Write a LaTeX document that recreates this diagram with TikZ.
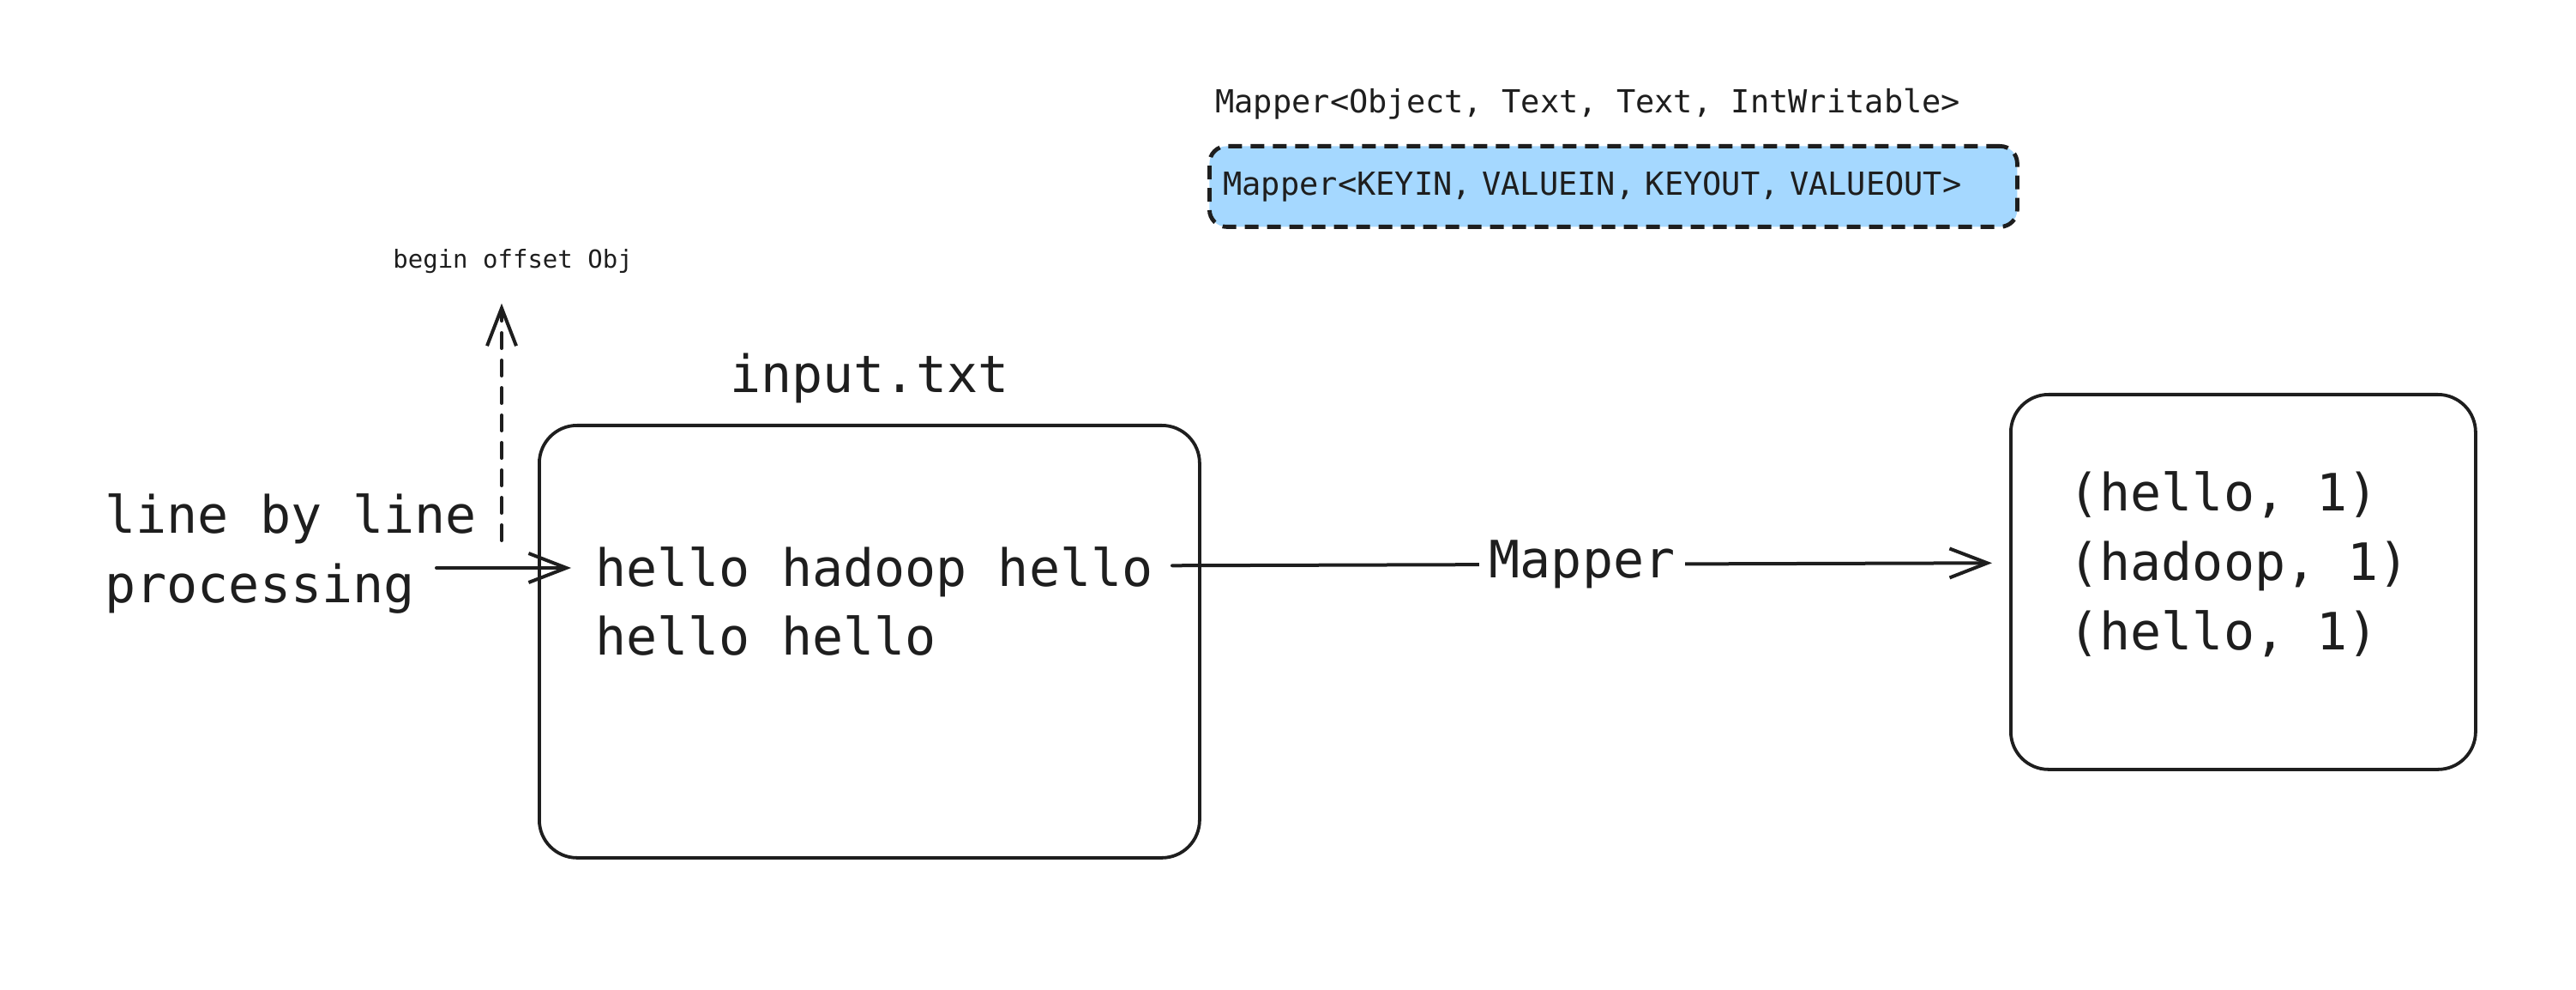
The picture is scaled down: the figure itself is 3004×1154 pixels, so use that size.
\documentclass[tikz,border=0pt]{standalone}
\usepackage{fontspec}
\usetikzlibrary{arrows.meta,positioning}
\newfontfamily\sketchfont{DejaVu Sans Mono}
\definecolor{ink}{HTML}{1E1E1E}
\definecolor{typeblue}{HTML}{A5D8FF}
\tikzset{
	frame/.style={draw=ink, line width=1.9pt, rounded corners=22pt},
	bigtxt/.style={inner sep=0pt, text=ink, font=\sketchfont\fontsize{30}{40.5}\selectfont},
	smalltxt/.style={inner sep=0pt, text=ink, font=\sketchfont\fontsize{18.5}{24}\selectfont},
	tinytxt/.style={inner sep=0pt, text=ink, font=\sketchfont\fontsize{14.5}{18}\selectfont},
	flow/.style={draw=ink, line width=2pt, line cap=round, -{Straight Barb[length=22pt, width=17pt, line width=2pt]}},
}
\begin{document}
\begin{tikzpicture}[x=0.5pt, y=-0.5pt]
	\useasboundingbox (0,0) rectangle (3004,1154);
	% Tipos del Mapper
		\node[smalltxt, anchor=base west] (objtype) at (1417,132) {Mapper<Object, Text, Text, IntWritable>};
		\node[smalltxt, anchor=north west, draw=ink, fill=typeblue, line width=2.4pt, dash pattern=on 8pt off 5pt,
			rounded corners=10pt, minimum width=471pt, minimum height=47pt, inner xsep=8pt, text width=455pt, align=left]
			(gentype) at (1408,168) {Mapper<KEYIN, VALUEIN, KEYOUT, VALUEOUT>};
	% Archivo de entrada
		\node[frame, anchor=north west, minimum width=385pt, minimum height=252pt] (infile) at (627,494) {};
		\node[bigtxt, above=12pt of infile] (fname) {input.txt};
		\node[bigtxt, anchor=base west] (lineone) at (694,683) {hello hadoop hello};
		\node[bigtxt, anchor=base west] (linetwo) at (694,763) {hello hello};
	% Salida
		\node[frame, anchor=north west, minimum width=271pt, minimum height=218.5pt] (outfile) at (2343,458) {};
		\node[bigtxt, anchor=base west, align=left] (pairs) at (2412,757) {(hello, 1)\\(hadoop, 1)\\(hello, 1)};
	% Lectura
		\node[bigtxt, anchor=base west, align=left] (howto) at (122,703) {line by line\\processing};
		\coordinate (feed) at (509,662);
		\draw[flow] (feed) -- (feed -| lineone.west) [shorten >=14pt];
	% Offset
		\node[tinytxt, anchor=base west] (offset) at (458,313) {begin offset Obj};
		\coordinate (offstart) at (585,630);
		\draw[flow, dash pattern=on 9pt off 7pt] (offstart) -- (offstart |- offset.south) [shorten >=17pt];
	% Mapper
		\draw[flow] ([shift={(11pt,3.5pt)}]lineone.east) -- node[bigtxt, fill=white, inner xsep=6pt] (maplbl) {Mapper} ([shift={(-10pt,5pt)}]lineone.east -| outfile.west);
\end{tikzpicture}
\end{document}
